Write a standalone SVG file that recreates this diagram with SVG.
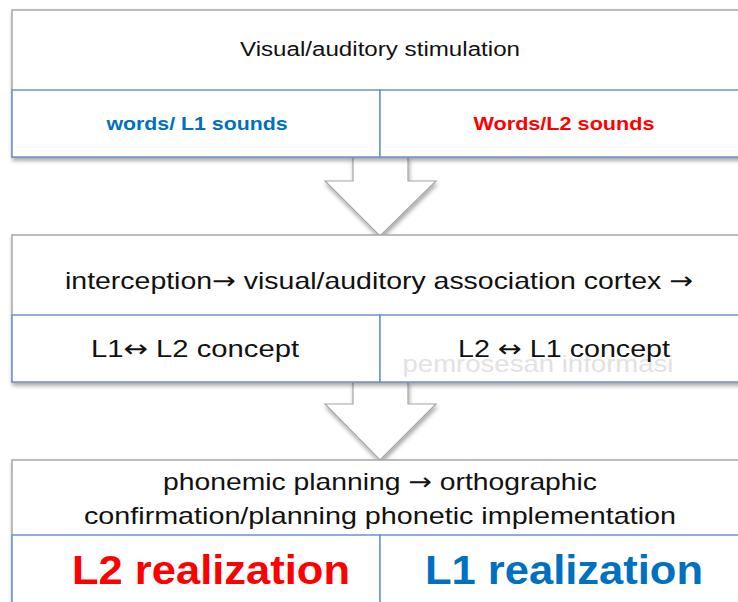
<svg xmlns="http://www.w3.org/2000/svg" width="738" height="602" viewBox="0 0 738 602">
<defs>
<filter id="sh" x="-5%" y="-5%" width="110%" height="115%">
<feDropShadow dx="1" dy="3" stdDeviation="2" flood-color="#000" flood-opacity="0.35"/>
</filter>
</defs>
<style>
.outer{fill:#fff;stroke:#a6a6a6;stroke-width:1.5}
.cell{fill:#fff;stroke:#6d93c8;stroke-width:1.5}
.arrow{fill:#fff;stroke:#a6a6a6;stroke-width:1.2}
text{font-family:"Liberation Sans",Arial,sans-serif;text-anchor:middle}
.ar{font-family:"DejaVu Sans",sans-serif}
.t{font-size:20px;fill:#111}
.m{font-size:24px;fill:#111}
.sb{font-size:19px;font-weight:bold}
.big{font-size:40px;font-weight:bold}
.blue{fill:#0070c0}
.red{fill:#ff0000}
.wm{font-size:24px;fill:#e2e2e2}
</style>
<rect width="738" height="602" fill="#fff"/>
<g id="connectors">
<path class="arrow" filter="url(#sh)" d="M353,157 L408,157 L408,181 L436,181 L380,236 L325,181 L353,181 Z"/>
<path class="arrow" filter="url(#sh)" d="M353,382 L408,382 L408,404 L436,404 L380,460 L325,404 L353,404 Z"/>
</g>
<g id="box1">
<rect class="outer" filter="url(#sh)" x="12" y="10" width="740" height="147"/>
<rect class="cell" x="12" y="90" width="368" height="67"/>
<rect class="cell" x="380" y="90" width="372" height="67"/>
<text class="t" x="380" y="56" textLength="280" lengthAdjust="spacingAndGlyphs">Visual/auditory stimulation</text>
<text class="sb blue" x="197" y="130" textLength="181" lengthAdjust="spacingAndGlyphs">words/ L1 sounds</text>
<text class="sb red" x="564" y="130" textLength="181" lengthAdjust="spacingAndGlyphs">Words/L2 sounds</text>
</g>
<g id="box2">
<rect class="outer" filter="url(#sh)" x="12" y="235" width="740" height="147"/>
<rect class="cell" x="12" y="315" width="368" height="67"/>
<rect class="cell" x="380" y="315" width="372" height="67"/>
<text class="m" x="379" y="289" textLength="628" lengthAdjust="spacingAndGlyphs">interception<tspan class="ar">→</tspan> visual/auditory association cortex <tspan class="ar">→</tspan></text>
<text class="wm" x="538" y="372" textLength="271" lengthAdjust="spacingAndGlyphs">pemrosesan informasi</text>
<text class="m" x="195" y="357" textLength="208" lengthAdjust="spacingAndGlyphs">L1<tspan class="ar">↔</tspan> L2 concept</text>
<text class="m" x="564" y="357" textLength="212" lengthAdjust="spacingAndGlyphs">L2 <tspan class="ar">↔</tspan> L1 concept</text>
</g>
<g id="box3">
<rect class="outer" filter="url(#sh)" x="12" y="460" width="740" height="160"/>
<rect class="cell" x="12" y="535" width="368" height="80"/>
<rect class="cell" x="380" y="535" width="372" height="80"/>
<text class="m" x="380" y="490" textLength="434" lengthAdjust="spacingAndGlyphs">phonemic planning <tspan class="ar">→</tspan> orthographic</text>
<text class="m" x="380" y="524" textLength="592" lengthAdjust="spacingAndGlyphs">confirmation/planning phonetic implementation</text>
<text class="big red" x="211" y="584" textLength="278" lengthAdjust="spacingAndGlyphs">L2 realization</text>
<text class="big blue" x="564" y="584" textLength="278" lengthAdjust="spacingAndGlyphs">L1 realization</text>
</g>
</svg>
